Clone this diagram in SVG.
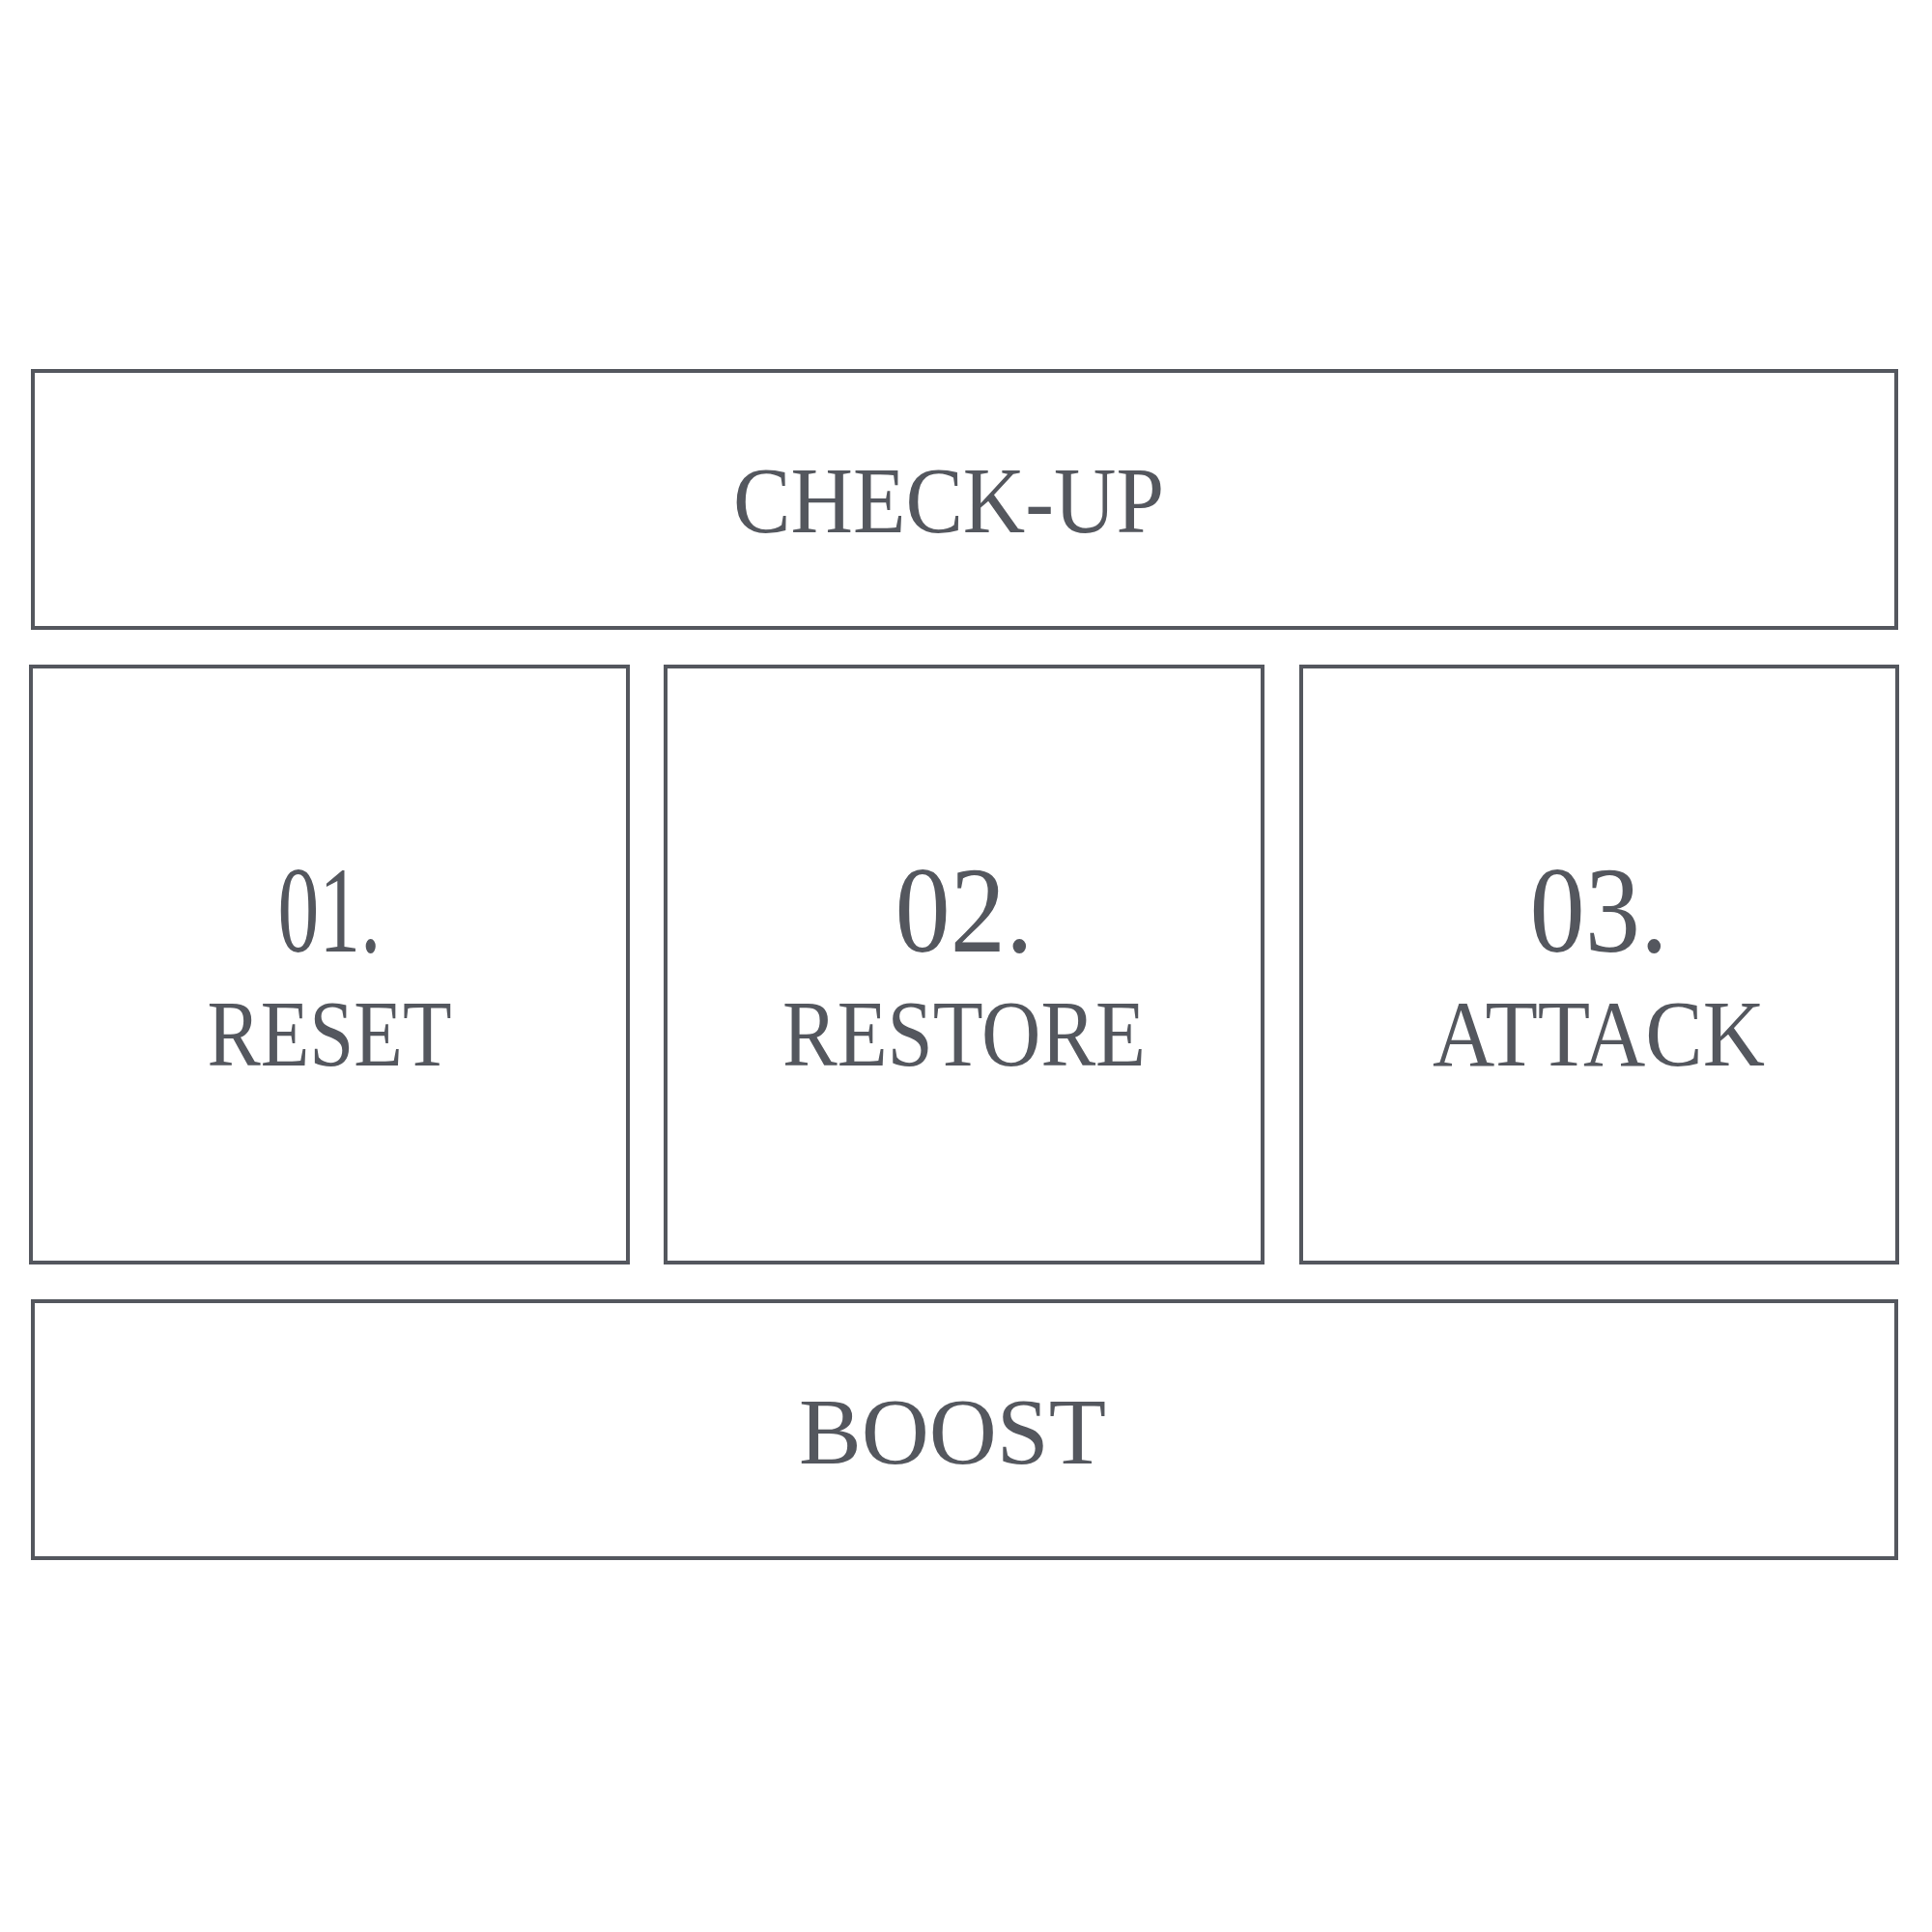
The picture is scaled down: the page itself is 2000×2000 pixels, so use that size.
<svg xmlns="http://www.w3.org/2000/svg" width="2000" height="2000" viewBox="0 0 2000 2000">
<style>
.b{fill:none;stroke:#54575e;stroke-width:4}
text{font-family:"Liberation Serif",serif;fill:#54575e;text-anchor:middle}
.t{font-size:98px}
.n{font-size:126px}
</style>
<rect width="2000" height="2000" fill="#fff"/>
<g id="checkup"><rect class="b" x="34" y="384" width="1929" height="266"/><text class="t" x="982" y="551" textLength="446" lengthAdjust="spacingAndGlyphs">CHECK-UP</text></g>
<g id="reset"><rect class="b" x="32" y="690" width="618" height="617"/><text class="n" x="341" y="985" textLength="107" lengthAdjust="spacingAndGlyphs">01.</text><text class="t" x="341" y="1103" textLength="253" lengthAdjust="spacingAndGlyphs">RESET</text></g>
<g id="restore"><rect class="b" x="689" y="690" width="618" height="617"/><text class="n" x="998" y="985" textLength="143" lengthAdjust="spacingAndGlyphs">02.</text><text class="t" x="998" y="1103" textLength="376" lengthAdjust="spacingAndGlyphs">RESTORE</text></g>
<g id="attack"><rect class="b" x="1347" y="690" width="617" height="617"/><text class="n" x="1655" y="985" textLength="143" lengthAdjust="spacingAndGlyphs">03.</text><text class="t" x="1655" y="1103" textLength="344" lengthAdjust="spacingAndGlyphs">ATTACK</text></g>
<g id="boost"><rect class="b" x="34" y="1347" width="1929" height="266"/><text class="t" x="986" y="1515" textLength="318" lengthAdjust="spacingAndGlyphs">BOOST</text></g>
<g id="connectors"/>
</svg>
